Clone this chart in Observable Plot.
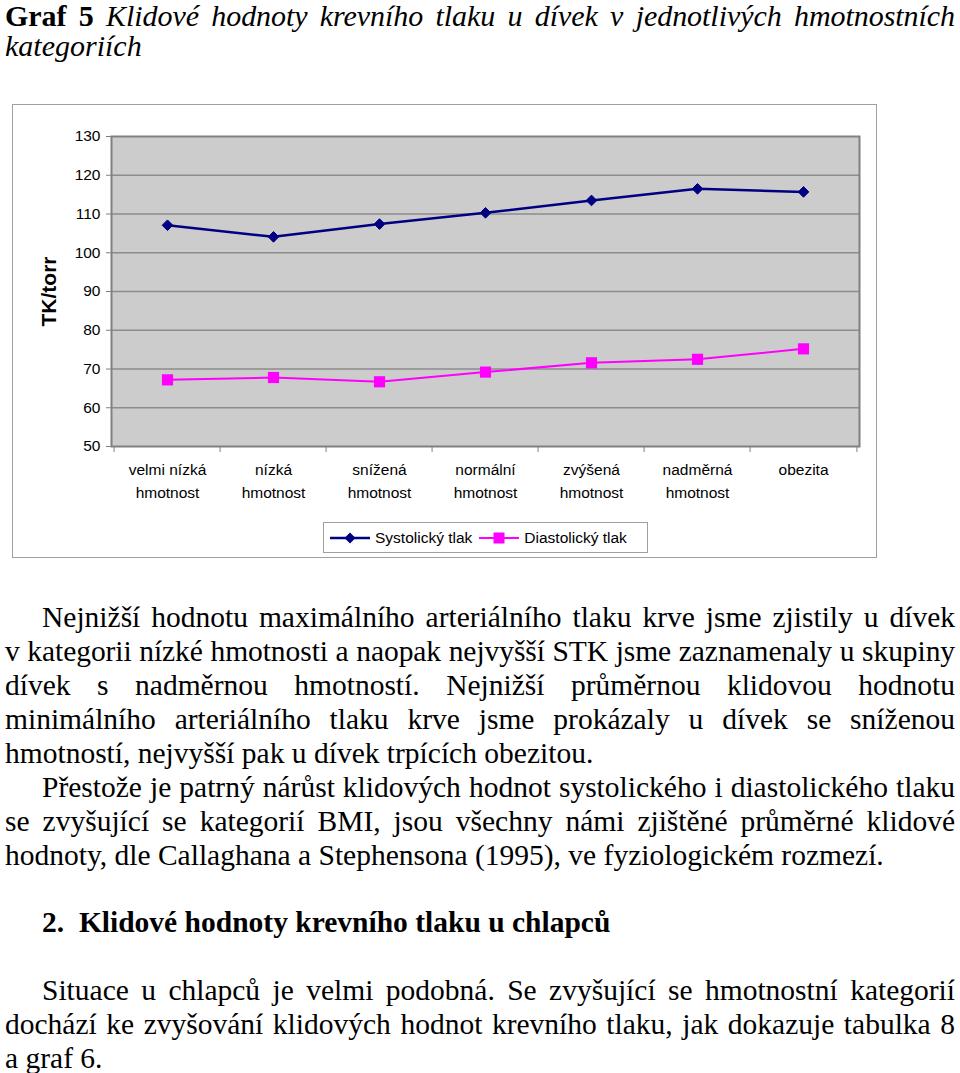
<!DOCTYPE html>
<html>
<head>
<meta charset="utf-8">
<script src="https://cdn.jsdelivr.net/npm/d3@7"></script>
<script src="https://cdn.jsdelivr.net/npm/@observablehq/plot@0.6"></script>
<style>
  html, body { margin: 0; padding: 0; background: #fff; }
  body { width: 960px; height: 1073px; position: relative; overflow: hidden; font-family: "Liberation Serif", "Times New Roman", serif; color: #000; }
  .line { position: absolute; left: 5px; width: 950px; font-size: 29.5px; white-space: nowrap; text-align: justify; text-align-last: justify; line-height: 30px; }
  .line.ind { left: 42px; width: 913px; }
  .line.last { text-align: left; text-align-last: left; }
  .line.title { font-size: 30px; }
  #frame { position: absolute; left: 12px; top: 104px; width: 865px; height: 454px; box-sizing: border-box; border: 1px solid #a0a0a0; }
  #chart { position: absolute; left: 0; top: 0; }
  #legend { position: absolute; left: 310px; top: 417px; width: 325px; height: 31px; box-sizing: border-box; border: 1px solid #a0a0a0; background: #fff;
            font-family: "Liberation Sans", Arial, sans-serif; font-size: 15.5px; display: flex; align-items: center; padding-left: 6px; }
  #legend .item { display: flex; align-items: center; margin-right: 7px; }
  #legend svg { margin-right: 5px; }
</style>
</head>
<body>
<div id="frame">
  <div id="chart"></div>
  <div id="legend"></div>
</div>

<div id="text"></div>

<script>
// ---- data ----
const categories = ["velmi nízká hmotnost", "nízká hmotnost", "snížená hmotnost", "normální hmotnost", "zvýšená hmotnost", "nadměrná hmotnost", "obezita"];
const categoryLabels = ["velmi nízká\nhmotnost", "nízká\nhmotnost", "snížená\nhmotnost", "normální\nhmotnost", "zvýšená\nhmotnost", "nadměrná\nhmotnost", "obezita"];
const systolic = [107.1, 104.1, 107.4, 110.3, 113.5, 116.5, 115.7];
const diastolic = [67.2, 67.8, 66.7, 69.2, 71.6, 72.5, 75.2];
const seriesNames = ["Systolický tlak", "Diastolický tlak"];
const yTicks = [50, 60, 70, 80, 90, 100, 110, 120, 130];
const yLabel = "TK/torr";

const rows = [];
categories.forEach((c, i) => {
  rows.push({cat: c, series: seriesNames[0], value: systolic[i]});
  rows.push({cat: c, series: seriesNames[1], value: diastolic[i]});
});
const sys = rows.filter(d => d.series === seriesNames[0]);
const dia = rows.filter(d => d.series === seriesNames[1]);
const labelOf = new Map(categories.map((c, i) => [c, categoryLabels[i]]));

const W = 863, H = 400;
const mL = 98, mR = 17, mT = 31, mB = 59;
const band = (W - mL - mR) / categories.length;

const chart = Plot.plot({
  width: W, height: H,
  marginLeft: mL, marginRight: mR, marginTop: mT, marginBottom: mB,
  style: {fontFamily: "'Liberation Sans', Arial, sans-serif", fontSize: "15.5px", background: "transparent", overflow: "visible"},
  x: {type: "band", domain: categories, padding: 0},
  y: {domain: [50, 130]},
  marks: [
    Plot.frame({fill: "#cccccc"}),
    Plot.gridY(yTicks.slice(1, -1), {stroke: "#8c8c8c", strokeOpacity: 1, strokeWidth: 1.5}),
    Plot.frame({stroke: "#808080", strokeWidth: 2}),
    Plot.axisY(yTicks, {tickSize: 5, tickPadding: 6, fontSize: 15.5, stroke: "#808080", fill: "#000", label: null}),
    Plot.axisX({tickSize: 0, tickPadding: 12, lineHeight: 1.5, fontSize: 15.5, label: null, tickFormat: d => labelOf.get(d)}),
    Plot.axisX({tickSize: 6, text: null, dx: -band / 2, stroke: "#808080", label: null}),
    Plot.axisX([categories[categories.length - 1]], {tickSize: 6, text: null, dx: band / 2, stroke: "#808080", label: null}),
    Plot.text([yLabel], {frameAnchor: "left", textAnchor: "middle", rotate: -90, dx: -62, fontSize: 21, fontWeight: "bold", fill: "#000"}),
    Plot.line(sys, {x: "cat", y: "value", stroke: "#000080", strokeWidth: 2.5}),
    Plot.dot(sys, {x: "cat", y: "value", symbol: "diamond2", r: 4.8, fill: "#000080", stroke: "#000080", strokeWidth: 1}),
    Plot.line(dia, {x: "cat", y: "value", stroke: "#ff00ff", strokeWidth: 2}),
    Plot.dot(dia, {x: "cat", y: "value", symbol: "square", r: 6.3, fill: "#ff00ff", stroke: "none"})
  ]
});
document.getElementById("chart").appendChild(chart);

// legend
const legend = document.getElementById("legend");
const swatch = (color, shape) => {
  const s = shape === "diamond"
    ? `<path d="M20 1.5 L25.5 7 L20 12.5 L14.5 7 Z" fill="${color}"/>`
    : `<rect x="14.5" y="1.5" width="11" height="11" fill="${color}"/>`;
  return `<svg width="40" height="14"><line x1="0" x2="40" y1="7" y2="7" stroke="${color}" stroke-width="${shape === "diamond" ? 2.5 : 2}"/>${s}</svg>`;
};
legend.innerHTML =
  `<span class="item">${swatch("#000080", "diamond")}<span>${seriesNames[0]}</span></span>` +
  `<span class="item">${swatch("#ff00ff", "square")}<span>${seriesNames[1]}</span></span>`;

// text
const lines = [
  {h: "<b>Graf 5</b> <i>Klidové hodnoty krevního tlaku u dívek v\u00a0jednotlivých hmotnostních</i>", y: 1, title: true},
  {h: "<i>kategoriích</i>", y: 31, title: true, last: true},
  {t: "Nejnižší hodnotu maximálního arteriálního tlaku krve jsme zjistily u dívek", y: 602, ind: true},
  {t: "v kategorii nízké hmotnosti a naopak nejvyšší STK jsme zaznamenaly u skupiny", y: 636},
  {t: "dívek s\u00a0nadměrnou hmotností. Nejnižší průměrnou klidovou hodnotu", y: 670},
  {t: "minimálního arteriálního tlaku krve jsme prokázaly u dívek se sníženou", y: 704},
  {t: "hmotností, nejvyšší pak u dívek trpících obezitou.", y: 738, last: true},
  {t: "Přestože je patrný nárůst klidových hodnot systolického i diastolického tlaku", y: 772, ind: true},
  {t: "se zvyšující se kategorií BMI, jsou všechny námi zjištěné průměrné klidové", y: 806},
  {t: "hodnoty, dle Callaghana a Stephensona (1995), ve fyziologickém rozmezí.", y: 840, last: true},
  {h: "<b>2.&nbsp;&nbsp;Klidové hodnoty krevního tlaku u chlapců</b>", y: 907, ind: true, last: true},
  {t: "Situace u chlapců je velmi podobná. Se zvyšující se hmotnostní kategorií", y: 975, ind: true},
  {t: "dochází ke zvyšování klidových hodnot krevního tlaku, jak dokazuje tabulka 8", y: 1009},
  {t: "a graf 6.", y: 1043, last: true}
];
const text = document.getElementById("text");
for (const l of lines) {
  const d = document.createElement("div");
  d.className = "line" + (l.ind ? " ind" : "") + (l.last ? " last" : "") + (l.title ? " title" : "");
  d.style.top = l.y + "px";
  const span = document.createElement("span");
  if (l.h) span.innerHTML = l.h; else span.textContent = l.t;
  d.appendChild(span);
  text.appendChild(d);
  // shrink letter spacing if the natural width exceeds the line box
  const target = d.clientWidth;
  const natural = span.getBoundingClientRect().width;
  if (natural > target) {
    const n = span.textContent.length;
    d.style.letterSpacing = ((target - natural) / n - 0.05) + "px";
  }
}
</script>
</body>
</html>
